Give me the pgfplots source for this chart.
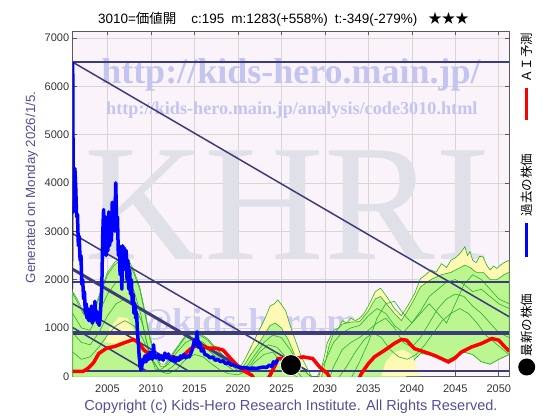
\documentclass[border=0pt]{standalone}
\usepackage{fontspec}
\setmainfont{Liberation Sans}
\newfontfamily\cjk{Noto Sans CJK JP}
\newfontfamily\wmserif{Liberation Serif}
\usepackage{pgfplots}
\pgfplotsset{compat=1.18}
\pgfkeys{/pgf/number format/1000 sep={}}

\definecolor{bgpink}{RGB}{250,244,250}
\definecolor{gridgray}{RGB}{214,214,214}
\definecolor{trend}{RGB}{60,60,125}
\definecolor{bandgreen}{RGB}{188,246,145}
\definecolor{bandyellow}{RGB}{255,249,180}
\definecolor{linegreen}{RGB}{40,175,40}
\definecolor{wmblue}{RGB}{196,196,240}
\definecolor{wmgray}{RGB}{224,224,232}
\definecolor{navytext}{RGB}{80,80,150}

\begin{document}
\begin{tikzpicture}
\path[use as bounding box] (0,0) rectangle (560bp,420bp);
\begin{axis}[
  at={(72.7bp,43.3bp)}, anchor=south west,
  scale only axis, width=436.5bp, height=345.5bp,
  xmin=2001, xmax=2051.2, ymin=-10, ymax=7140,
  xtick={2005,2010,...,2050}, ytick={0,1000,...,7000},
  scaled ticks=false,
  grid=major, major grid style={gridgray, line width=0.6bp},
  axis background/.style={fill=bgpink},
  axis line style={black!65, line width=0.6bp},
  tick style={black!65, line width=0.6bp},
  tick label style={font=\fontsize{11bp}{13bp}\selectfont, text=black!80},
  xticklabel style={yshift=-5bp},
  /pgf/number format/assume math mode=true,
]
% watermarks
\node[text=wmblue, font=\wmserif\bfseries\fontsize{36bp}{36bp}\selectfont] at (axis cs:2026.1,6234) {http://kids-hero.main.jp/};
\node[text=wmblue, font=\wmserif\bfseries\fontsize{18.2bp}{19bp}\selectfont] at (axis cs:2026.2,5510) {http://kids-hero.main.jp/analysis/code3010.html};
\node[text=wmgray, font=\wmserif\fontsize{166bp}{166bp}\selectfont] at (axis cs:2025.7,3543) {KHRI};
\node[text=wmblue!85!white, font=\wmserif\bfseries\fontsize{36bp}{36bp}\selectfont] at (axis cs:2022.8,1060) {info@kids-hero.main.jp};

% yellow band
\addplot[fill=bandyellow, draw=linegreen, line width=0.6bp] coordinates {
(2001.0,1750)(2001.5,1600)(2002.2,1350)(2002.8,1200)(2003.5,1400)(2004.2,1750)(2005.0,2150)(2005.8,2350)(2006.5,2450)(2007.3,2450)(2008.0,2200)(2008.7,1850)(2009.3,1350)(2009.9,800)(2010.5,450)(2011.1,250)(2011.6,250)(2012.4,450)(2013.2,650)(2014.0,850)(2014.8,900)(2015.6,880)(2016.5,780)(2017.4,600)(2018.5,400)(2019.5,250)(2020.3,200)(2020.8,350)(2021.5,600)(2022.3,900)(2023.0,1150)(2023.7,1450)(2024.2,1500)(2024.6,1580)(2025.0,1480)(2025.5,1350)(2026.0,1050)(2026.5,800)(2027.3,400)(2028.0,150)(2028.5,-20)(2029.3,-20)(2029.8,300)(2030.3,700)(2031.0,950)(2031.6,1000)(2032.0,1150)(2032.5,1100)(2033.0,1200)(2033.5,1150)(2034.0,1200)(2034.5,1300)(2035.0,1450)(2035.8,1750)(2036.4,1820)(2036.9,1700)(2037.3,1600)(2038.0,1400)(2038.8,1250)(2039.5,1450)(2040.3,1700)(2041.0,2020)(2041.6,2100)(2042.2,2200)(2042.8,2150)(2043.4,2330)(2044.0,2250)(2044.5,2400)(2045.0,2450)(2045.6,2550)(2046.1,2680)(2046.4,2500)(2046.7,2580)(2047.0,2400)(2047.4,2350)(2047.8,2480)(2048.2,2470)(2048.6,2300)(2049.0,2200)(2049.4,2280)(2049.8,2230)(2050.2,2300)(2050.6,2350)(2051.2,2400)
(2051.2,450)(2050,350)(2049,250)(2048,300)(2047,450)(2046,500)(2045,420)(2044,330)(2043,380)(2042,450)(2041,470)(2040.3,350)(2039.8,100)(2039.3,-20)(2001,-20)
} -- cycle;
% green band
\addplot[fill=bandgreen, draw=linegreen, line width=0.6bp] coordinates {
(2001.0,1720)(2001.5,1550)(2002.2,1300)(2002.8,1150)(2003.5,1350)(2004.2,1700)(2005.0,2100)(2005.8,2300)(2006.5,2400)(2007.3,2400)(2008.0,2150)(2008.7,1800)(2009.3,1300)(2009.9,750)(2010.5,400)(2011.1,200)(2011.6,200)(2012.4,420)(2013.2,620)(2014.0,820)(2014.8,870)(2015.6,850)(2016.5,750)(2017.4,570)(2018.5,380)(2019.5,220)(2020.3,150)(2020.8,250)(2021.5,450)(2022.3,650)(2023.0,850)(2023.7,1050)(2024.3,1100)(2025.0,1000)(2025.8,750)(2026.5,450)(2027.3,200)(2028.0,50)(2028.5,-20)(2029.6,-20)(2030.0,250)(2030.5,650)(2031.0,880)(2032.0,1080)(2033.0,1120)(2034.0,1130)(2035.0,1350)(2035.8,1600)(2036.4,1650)(2037.3,1450)(2038.0,1300)(2038.8,1150)(2039.5,1350)(2040.3,1600)(2041.0,1850)(2042.2,2000)(2043.4,2100)(2044.5,2150)(2045.6,2250)(2046.1,2300)(2046.7,2250)(2047.4,2150)(2048.2,2150)(2049.0,2000)(2049.8,2000)(2050.6,2100)(2051.2,2150)
(2051.2,450)(2050,350)(2049,250)(2048,300)(2047,450)(2046,500)(2045,420)(2044,330)(2043,380)(2042,450)(2041,470)(2040.3,350)(2039.8,100)(2039.3,-20)(2001,-20)
} -- cycle;
% yellow patches
\addplot[fill=bandyellow, draw=none] coordinates {
(2004.6,700)(2005.3,1000)(2006.3,1230)(2007.3,1200)(2008.0,950)(2008.5,700)(2007.0,650)(2005.5,680)
} -- cycle;
\addplot[fill=bandyellow, draw=none] coordinates {
(2036.5,0)(2037.0,300)(2038.0,500)(2039.0,550)(2040.0,450)(2040.5,200)(2041.0,0)
} -- cycle;
% green forecast lines
\addplot[linegreen, line width=0.6bp] coordinates {
(2001.0,1300)(2002.0,1000)(2003.0,950)(2004.0,1300)(2005.0,1700)(2006.0,1950)(2007.0,2000)(2008.0,1800)(2008.8,1300)(2009.5,700)(2010.2,300)(2011.0,120)(2012.0,250)(2013.0,500)(2014.0,700)(2015.0,780)(2016.0,700)(2017.0,520)(2018.0,380)(2019.0,250)(2020.0,120)(2021.0,200)(2022.0,450)(2023.0,700)(2024.0,850)(2025.0,800)(2026.0,550)(2027.0,250)(2028.0,50)(2029.0,-50)(2030.0,300)(2031.0,700)(2032.0,900)(2033.0,1000)(2034.0,1050)(2035.0,1250)(2036.0,1400)(2037.0,1300)(2038.0,1050)(2039.0,900)(2040.0,1100)(2041.0,1350)(2042.0,1650)(2043.0,1800)(2044.0,1950)(2045.0,2000)(2046.0,1900)(2047.0,1750)(2048.0,1800)(2049.0,1650)(2050.0,1500)(2051.2,1400)};
\addplot[linegreen, line width=0.6bp] coordinates {
(2001.0,900)(2002.0,700)(2003.0,650)(2004.0,900)(2005.0,1250)(2006.0,1500)(2007.0,1600)(2008.0,1500)(2009.0,1100)(2009.8,500)(2010.5,150)(2011.5,80)(2012.5,200)(2013.5,400)(2014.5,600)(2015.5,650)(2016.5,550)(2017.5,400)(2018.5,250)(2019.5,120)(2020.5,80)(2021.5,250)(2022.5,500)(2023.5,650)(2024.5,600)(2025.5,400)(2026.5,150)(2027.5,-50)(2030.5,-50)(2031.0,200)(2032.0,550)(2033.0,700)(2034.0,800)(2035.0,950)(2036.0,1100)(2037.0,1200)(2038.0,1000)(2039.0,700)(2040.0,600)(2041.0,800)(2042.0,1100)(2043.0,1400)(2044.0,1600)(2045.0,1700)(2046.0,1650)(2047.0,1450)(2048.0,1300)(2049.0,1100)(2050.0,900)(2051.2,800)};
\addplot[linegreen, line width=0.6bp] coordinates {
(2001.0,500)(2002.0,350)(2003.0,400)(2004.0,600)(2005.0,850)(2006.0,1050)(2007.0,1150)(2008.0,1050)(2009.0,800)(2010.0,400)(2011.0,100)(2012.0,50)(2013.0,150)(2014.0,350)(2015.0,450)(2016.0,400)(2017.0,250)(2018.0,120)(2019.0,50)(2020.0,30)(2021.0,100)(2022.0,300)(2023.0,450)(2024.0,500)(2025.0,300)(2026.0,100)(2027.0,-50)(2031.5,-50)(2032.5,200)(2033.5,500)(2034.5,750)(2035.5,900)(2036.5,800)(2037.5,550)(2038.5,400)(2039.5,350)(2040.5,450)(2041.5,650)(2042.5,900)(2043.5,1150)(2044.5,1300)(2045.5,1400)(2046.5,1300)(2047.5,1100)(2048.5,850)(2049.5,700)(2050.5,550)(2051.2,450)};
\addplot[linegreen, line width=0.6bp] coordinates {
(2033.0,-50)(2034.0,300)(2035.0,700)(2036.0,1200)(2037.0,1500)(2038.0,1550)(2039.0,1300)(2040.0,1100)(2041.0,1300)(2042.0,1500)(2043.0,1300)(2044.0,1100)(2045.0,1500)(2046.0,1900)(2047.0,2100)(2048.0,2000)(2049.0,1800)(2050.0,1600)(2051.2,1500)};

% trend lines
\addplot[trend, line width=2bp] coordinates {(2001,6500)(2051.2,6500)};
\addplot[trend, line width=2bp] coordinates {(2001,1950)(2051.2,1950)};
\addplot[trend, line width=4bp] coordinates {(2001,900)(2051.2,900)};
\addplot[trend, line width=2bp] coordinates {(2001,110)(2051.2,110)};
\addplot[trend, line width=1.5bp] coordinates {(2001,6500)(2051.2,1230)};
\addplot[trend, line width=1.5bp] coordinates {(2001,2950)(2028.05,110)};
\addplot[trend, line width=3bp] coordinates {(2001,2214)(2021.04,110)};
\addplot[trend, line width=1.5bp] coordinates {(2001,1504)(2014.3,110)};
\addplot[trend, line width=1.5bp] coordinates {(2001,1007)(2009.5,110)};

% black thin line
\addplot[black, line width=0.8bp] coordinates {
(2001.0,1800)(2001.05,3500)(2001.2,4300)(2001.4,3600)(2001.6,2800)(2001.9,2300)(2002.2,1700)(2002.5,1350)(2003.0,1250)(2003.5,1300)(2004.0,1150)(2004.3,1500)(2004.5,3300)(2005.0,3000)(2005.5,3300)(2005.95,3900)(2006.3,2700)(2006.8,2400)(2007.3,2200)(2007.8,1800)(2008.2,1500)(2008.45,1300)(2008.6,200)(2009.0,300)(2010,420)(2011,400)(2012,380)(2013,370)(2014,420)(2015,700)(2015.3,850)(2016,520)(2017,380)(2018,300)(2019,240)(2020,190)(2021,170)(2022,170)(2023,190)(2024,260)(2024.6,290)};

% AI forecast (red)
\addplot[red, line width=3.5bp] coordinates {
(2001.0,100)(2002.2,100)(2002.8,170)(2003.4,280)(2004.0,470)(2004.9,580)(2005.9,620)(2006.9,690)(2008.0,760)(2008.6,690)(2009.2,540)(2010.0,430)(2011.3,400)(2012.5,400)(2013.4,360)(2014.2,510)(2015.0,620)(2015.8,620)(2016.7,580)(2017.5,580)(2018.3,540)(2019.2,360)(2020.0,210)(2020.8,100)(2021.6,20)(2022.0,-100)(2023.3,-100)(2023.7,20)(2024.0,130)(2024.3,230)(2024.6,360)(2025.5,380)(2026.5,360)(2027.5,400)(2028.6,365)(2029.4,190)(2030.3,55)(2030.7,-100)(2033.8,-100)(2034.2,55)(2035.0,260)(2035.7,400)(2036.9,540)(2038.0,680)(2038.8,760)(2039.4,745)(2040.3,570)(2041.5,500)(2042.6,430)(2043.4,365)(2044.2,296)(2044.9,365)(2045.7,500)(2046.9,607)(2048.0,676)(2049.2,780)(2050.0,745)(2050.7,607)(2051.2,520)};

% past price (blue)
\addplot[blue, line width=3.5bp, line join=round] coordinates {
(2001.00,6500)(2001.03,5200)(2001.06,3400)(2001.12,3800)(2001.25,4300)(2001.35,3900)(2001.45,3300)(2001.55,3350)(2001.65,2700)(2001.75,2900)(2001.85,2400)(2001.95,2500)(2002.05,1900)(2002.15,2000)(2002.25,1600)(2002.35,1750)(2002.45,1300)(2002.55,1500)(2002.65,1200)(2002.75,1400)(2002.85,1150)(2002.95,1350)(2003.05,1150)(2003.15,1450)(2003.25,1100)(2003.35,1300)(2003.45,1150)(2003.55,1550)(2003.65,1200)(2003.75,1350)(2003.85,1100)(2003.95,1250)(2004.05,1050)(2004.15,1200)(2004.25,1500)(2004.35,1850)(2004.45,2900)(2004.55,3450)(2004.65,2800)(2004.75,3300)(2004.85,2500)(2004.95,3000)(2005.05,2600)(2005.15,3400)(2005.25,2700)(2005.35,3100)(2005.45,2800)(2005.55,3600)(2005.65,3100)(2005.75,3500)(2005.85,3000)(2005.95,4000)(2006.05,3200)(2006.15,3300)(2006.25,2500)(2006.35,2700)(2006.45,2100)(2006.55,2600)(2006.65,1800)(2006.75,2700)(2006.85,2200)(2006.95,2650)(2007.05,2300)(2007.15,2600)(2007.25,2000)(2007.35,2400)(2007.45,1800)(2007.55,2200)(2007.65,1700)(2007.75,2000)(2007.85,1500)(2007.95,1700)(2008.05,1300)(2008.15,1500)(2008.25,1200)(2008.35,1300)(2008.45,900)(2008.55,700)(2008.65,400)(2008.75,250)(2008.85,130)(2008.95,200)(2009.05,350)(2009.15,280)(2009.3,420)(2009.45,300)(2009.6,450)(2009.75,350)(2009.9,500)(2010.0,400)(2010.15,350)(2010.3,650)(2010.4,400)(2010.6,380)(2010.8,450)(2011.0,350)(2011.2,420)(2011.4,330)(2011.6,480)(2011.8,380)(2012.0,460)(2012.2,350)(2012.4,330)(2012.6,400)(2012.8,300)(2013.0,380)(2013.2,330)(2013.4,420)(2013.6,380)(2013.8,450)(2014.0,380)(2014.2,420)(2014.4,400)(2014.6,480)(2014.8,580)(2015.0,750)(2015.15,650)(2015.3,920)(2015.45,600)(2015.6,700)(2015.8,520)(2016.0,560)(2016.2,450)(2016.5,430)(2016.8,380)(2017.1,400)(2017.4,330)(2017.7,350)(2018.0,300)(2018.3,320)(2018.6,260)(2018.9,280)(2019.2,230)(2019.5,240)(2019.8,200)(2020.1,190)(2020.5,170)(2020.9,180)(2021.3,160)(2021.7,170)(2022.1,160)(2022.5,175)(2022.9,190)(2023.3,180)(2023.6,230)(2023.9,200)(2024.1,300)(2024.3,260)(2024.5,320)(2024.6,300)};

% latest price
\addplot[only marks, mark=*, mark size=10.5bp, mark options={fill=black, draw=white, line width=0.8bp}] coordinates {(2026.1,230)};
\end{axis}

% title and side texts
\node[font=\fontsize{13.5bp}{15bp}\selectfont] at (283.5bp,400.5bp) {3010={\cjk 価値開}\hspace{15bp}c:195\hspace{7bp}m:1283(+558\%)\hspace{7bp}t:-349(-279\%)\hspace{11bp}{\cjk ★★★}};
\node[rotate=90, text=navytext, font=\fontsize{13.3bp}{15bp}\selectfont] at (31.7bp,232.5bp) {Generated on Monday 2026/1/5.};
\node[text=navytext, font=\fontsize{14.5bp}{16bp}\selectfont] at (291bp,13bp) {Copyright (c) Kids-Hero Research Institute. All Rights Reserved.};

\node[rotate=90, font=\cjk\fontsize{12.5bp}{14bp}\selectfont] at (526.7bp,362bp) {ＡＩ予測};
\draw[red, line width=3bp] (526.5bp,300bp) -- (526.5bp,332bp);
\node[rotate=90, font=\cjk\fontsize{12.5bp}{14bp}\selectfont] at (526.7bp,235bp) {過去の株価};
\draw[blue, line width=3bp] (526.5bp,163bp) -- (526.5bp,197bp);
\node[rotate=90, font=\cjk\fontsize{12.5bp}{14bp}\selectfont] at (526.7bp,95bp) {最新の株価};
\fill[black] (526.7bp,53bp) circle (8.5bp);
\end{tikzpicture}
\end{document}
